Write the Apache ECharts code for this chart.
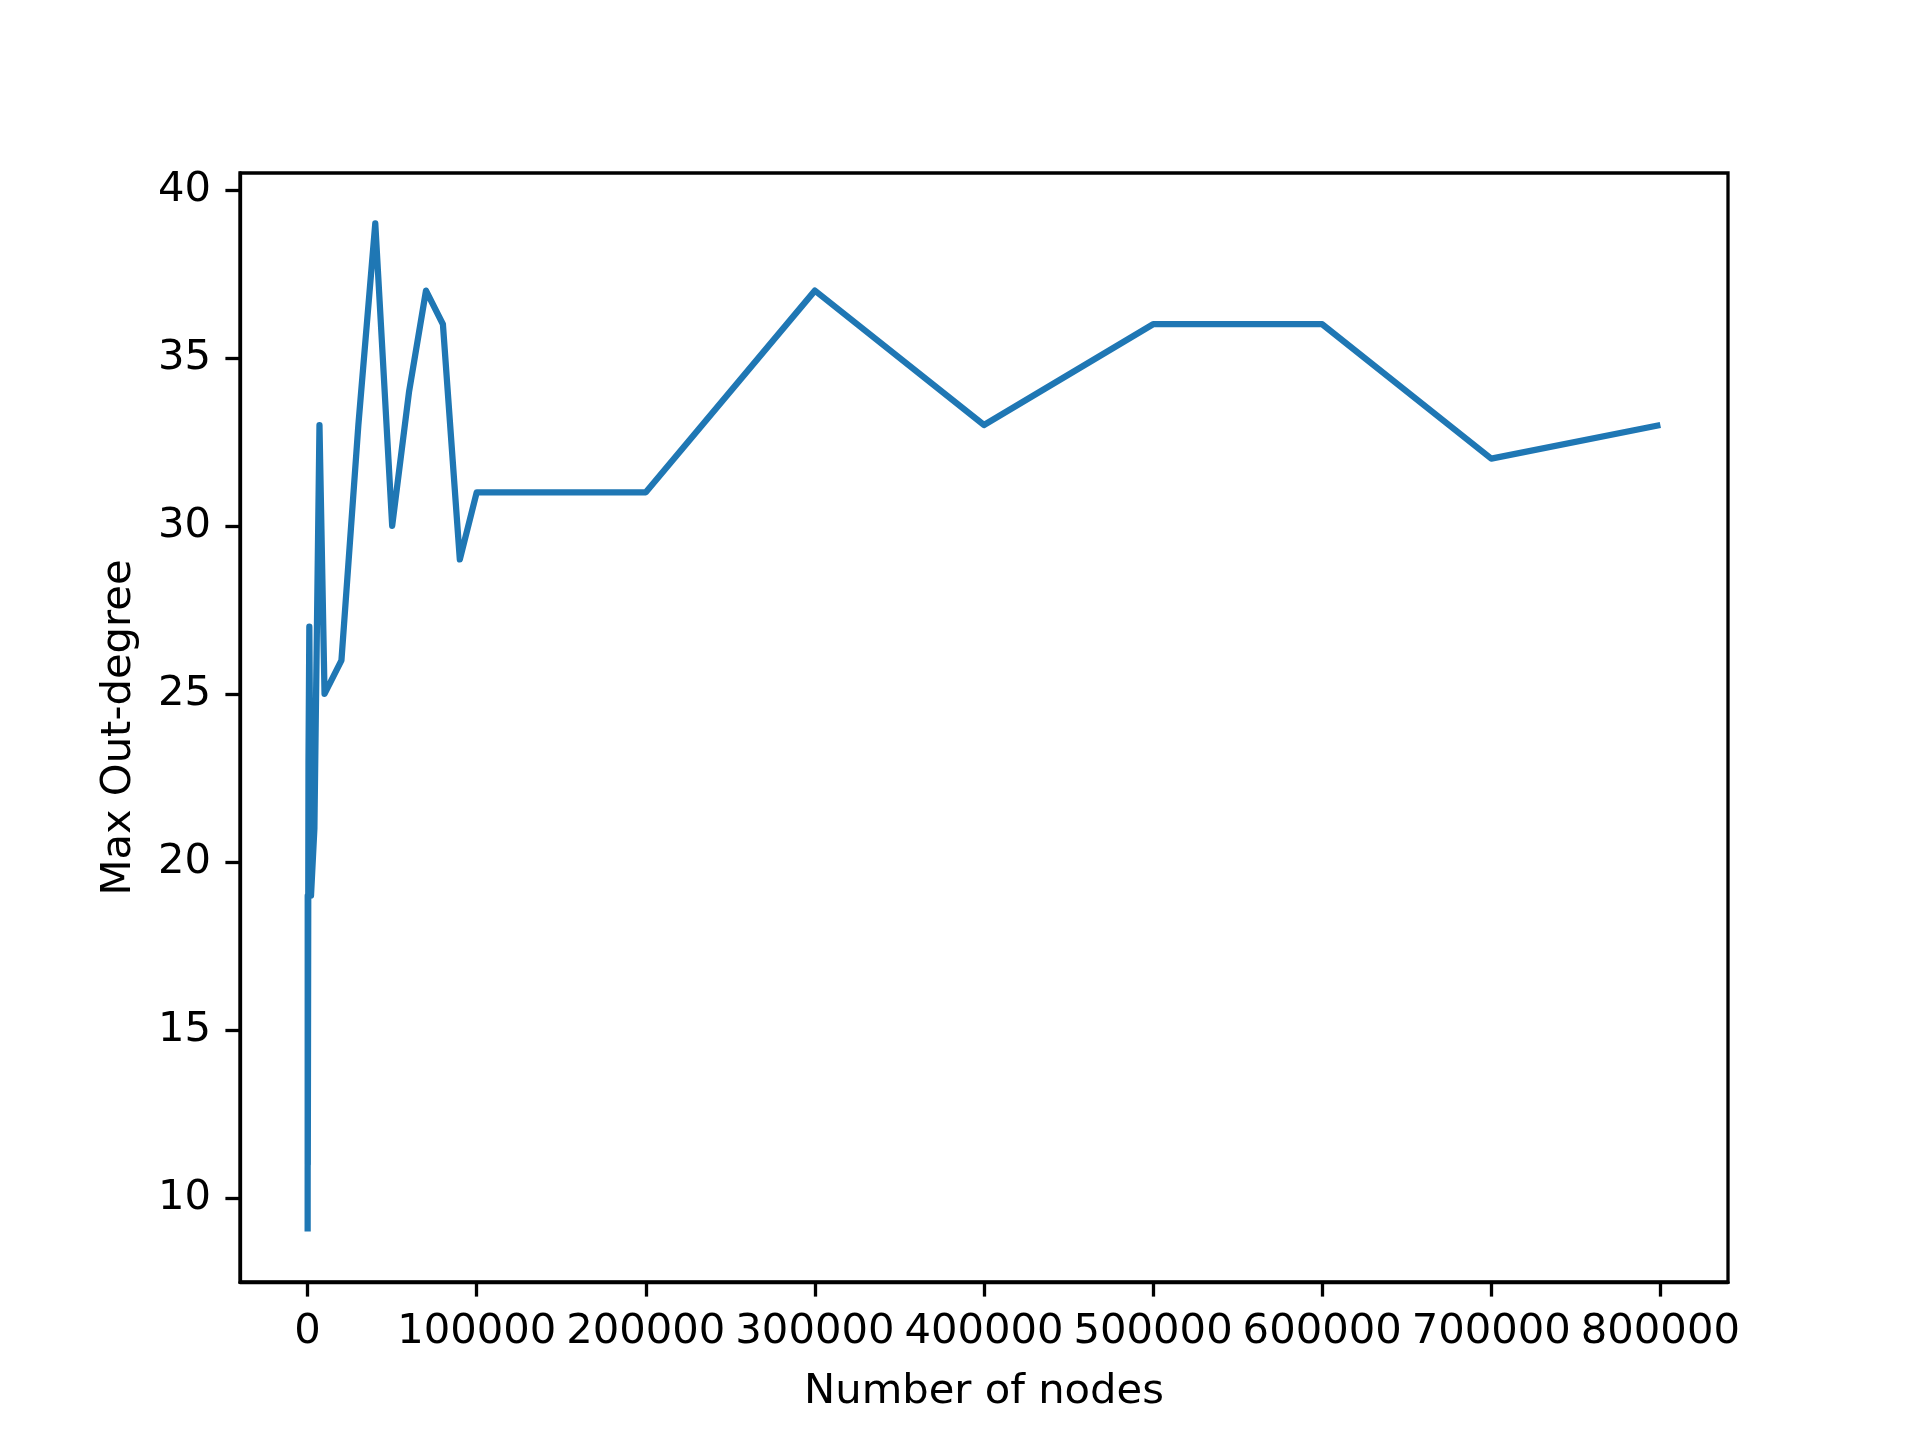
<!DOCTYPE html>
<html>
<head>
<meta charset="utf-8">
<script src="https://cdn.jsdelivr.net/npm/echarts@6/dist/echarts.min.js"></script>
<style>html,body{margin:0;padding:0;background:#fff}#c{width:1920px;height:1440px}</style>
</head>
<body>
<div id="c"></div>
<script>
const nodes = [10, 50, 100, 500, 1000, 2000, 4000, 7000, 10000, 20000, 30000, 40000, 50000, 60000, 70000, 80000, 90000, 100000, 200000, 300000, 400000, 500000, 600000, 700000, 800000];
const maxOutDegree = [9, 19, 11, 23, 27, 19, 21, 33, 25, 26, 33, 39, 30, 34, 37, 36, 29, 31, 31, 37, 33, 36, 36, 32, 33];
const xTicks = [0, 100000, 200000, 300000, 400000, 500000, 600000, 700000, 800000];
const yTicks = [10, 15, 20, 25, 30, 35, 40];

const chart = echarts.init(document.getElementById('c'), null, {renderer: 'canvas'});
const font = 'DejaVu Sans';
chart.setOption({
  animation: false,
  backgroundColor: '#fff',
  grid: {left: 240, right: 192, top: 173, bottom: 158, show: true, borderColor: '#000', borderWidth: 3.3, backgroundColor: 'transparent'},
  xAxis: {
    type: 'value', min: -40000, max: 840000,
    name: 'Number of nodes', nameLocation: 'middle', nameGap: 89,
    nameTextStyle: {fontFamily: font, fontSize: 41.7, color: '#000'},
    splitLine: {show: false},
    axisLine: {show: true, onZero: false, lineStyle: {color: '#000', width: 3.3}},
    axisTick: {show: true, length: 14.6, lineStyle: {color: '#000', width: 3.3}, customValues: xTicks},
    axisLabel: {fontFamily: font, fontSize: 41.7, color: '#000', margin: 29, customValues: xTicks, formatter: v => String(v)}
  },
  yAxis: {
    type: 'value', min: 7.5, max: 40.5,
    name: 'Max Out-degree', nameLocation: 'middle', nameGap: 100, nameRotate: 90,
    nameTextStyle: {fontFamily: font, fontSize: 41.7, color: '#000'},
    splitLine: {show: false},
    axisLine: {show: true, onZero: false, lineStyle: {color: '#000', width: 3.3}},
    axisTick: {show: true, length: 14.6, lineStyle: {color: '#000', width: 3.3}, customValues: yTicks},
    axisLabel: {fontFamily: font, fontSize: 41.7, color: '#000', margin: 29, padding: [4, 0, 0, 0], customValues: yTicks, formatter: v => String(v)}
  },
  series: [{
    type: 'line',
    data: nodes.map((x, i) => [x, maxOutDegree[i]]),
    showSymbol: false,
    symbol: 'none',
    lineStyle: {color: '#1f77b4', width: 6.25, join: 'round', cap: 'butt'},
    clip: false
  }]
});
</script>
</body>
</html>
